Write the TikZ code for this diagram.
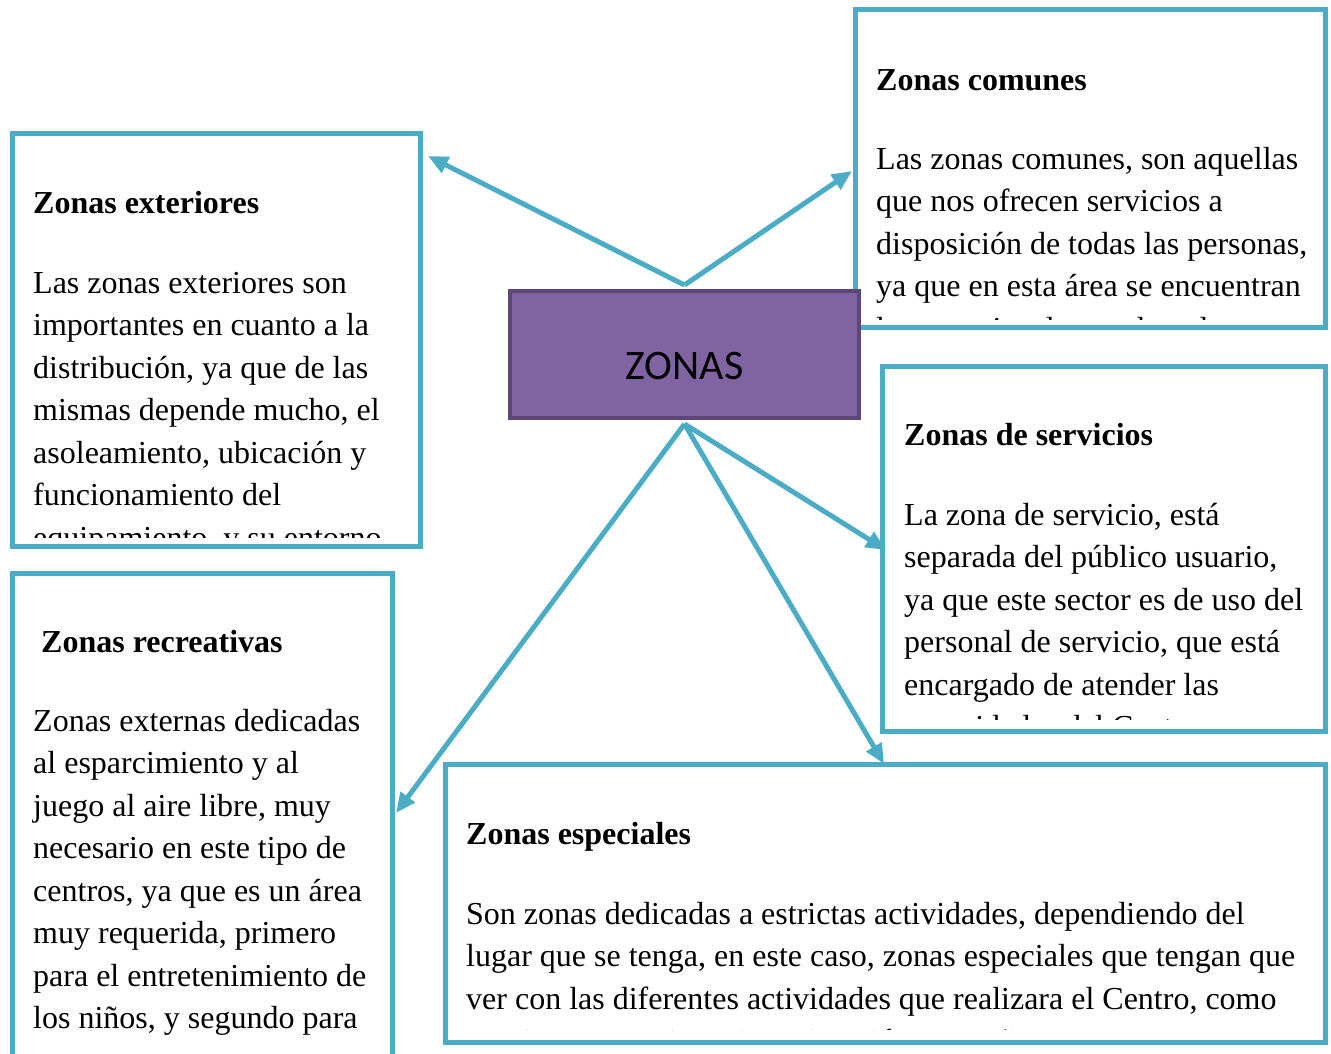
\documentclass[tikz,border=0pt]{standalone}
\usepackage{fontspec}
\setmainfont{Liberation Serif}
\newfontfamily\zonasfont{Carlito}
\usetikzlibrary{arrows.meta}
\definecolor{zteal}{HTML}{4BACC6}
\definecolor{zpurple}{HTML}{8064A2}
\definecolor{zpurpledark}{HTML}{5C4776}
% lines hang from the baseline of the first one
\newcommand\zlines[1]{\parbox[t]{900pt}{\raggedright #1}}
\begin{document}
\begin{tikzpicture}[x = 1pt, y = -1pt,
  zbox/.style = {draw = zteal, line width = 5.5pt, fill = white, inner sep = 0pt},
  ztitle/.style = {anchor = base west, inner sep = 0pt, font = \fontsize{32}{42.5}\selectfont\bfseries},
  ztext/.style = {anchor = base west, inner sep = 0pt, font = \fontsize{32}{42.5}\selectfont},
  zlink/.style = {zteal, line width = 5pt, -{Triangle[length = 20pt, width = 17pt]}}]
\useasboundingbox (0,0) rectangle (1331,1053);
% boxes
\node[zbox, minimum width = 408pt, minimum height = 413pt] at (216.5,340) (ext) {};
\node[zbox, minimum width = 470pt, minimum height = 318pt] at (1090.5,168.5) (com) {};
\node[zbox, minimum width = 443pt, minimum height = 365pt] at (1104,549) (ser) {};
\node[zbox, minimum width = 380pt, minimum height = 507pt] at (202.5,827) (rec) {};
\node[zbox, minimum width = 880pt, minimum height = 278pt] at (885.5,903.5) (esp) {};
% texts, cut at the bottom of each box
\begin{scope}
\clip (15,136) rectangle (418,537);
\node[ztitle] at (33,213) (ext-title) {Zonas exteriores};
\node[ztext] at (33,293) (ext-text) {\zlines{Las zonas exteriores son\\importantes en cuanto a la\\distribución, ya que de las\\mismas depende mucho, el\\asoleamiento, ubicación y\\funcionamiento del\\equipamiento, y su entorno.}};
\end{scope}
\begin{scope}
\clip (858,12) rectangle (1323,319);
\node[ztitle] at (876,90) (com-title) {Zonas comunes};
\node[ztext] at (876,169) (com-text) {\zlines{Las zonas comunes, son aquellas\\que nos ofrecen servicios a\\disposición de todas las personas,\\ya que en esta área se encuentran\\los espacios de uso de todos.}};
\end{scope}
\begin{scope}
\clip (885,369) rectangle (1323,719);
\node[ztitle] at (904,445) (ser-title) {Zonas de servicios};
\node[ztext] at (904,525) (ser-text) {\zlines{La zona de servicio, está\\separada del público usuario,\\ya que este sector es de uso del\\personal de servicio, que está\\encargado de atender las\\necesidades del Centro.}};
\end{scope}
\begin{scope}
\clip (15,576) rectangle (390,1053);
\node[ztitle] at (41,652) (rec-title) {Zonas recreativas};
\node[ztext] at (33,731) (rec-text) {\zlines{Zonas externas dedicadas\\al esparcimiento y al\\juego al aire libre, muy\\necesario en este tipo de\\centros, ya que es un área\\muy requerida, primero\\para el entretenimiento de\\los niños, y segundo para}};
\end{scope}
\begin{scope}
\clip (448,767) rectangle (1323,1029);
\node[ztitle] at (466,844) (esp-title) {Zonas especiales};
\node[ztext] at (466,924) (esp-text) {\zlines{Son zonas dedicadas a estrictas actividades, dependiendo del\\lugar que se tenga, en este caso, zonas especiales que tengan que\\ver con las diferentes actividades que realizara el Centro, como\\reuniones, convivencia, animación y enseñanza.}};
\end{scope}
% centre
\node[draw = zpurpledark, fill = zpurple, line width = 4pt, minimum width = 349pt, minimum height = 127pt,
  text height = 49pt, text depth = 0pt, font = \zonasfont\fontsize{42}{50}\selectfont] at (684.5,354.5) (zonas) {ZONAS};
\coordinate (ext-tip) at (428,156);
\coordinate (com-tip) at (852,171);
\coordinate (ser-tip) at (886,550);
\coordinate (esp-tip) at (884,764);
\coordinate (rec-tip) at (396,813);
\draw[zlink] ([yshift = 4pt]zonas.north) -- (ext-tip);
\draw[zlink] ([yshift = 4pt]zonas.north) -- (com-tip);
\draw[zlink] ([yshift = -4pt]zonas.south) -- (ser-tip);
\draw[zlink] ([yshift = -4pt]zonas.south) -- (esp-tip);
\draw[zlink] ([yshift = -4pt]zonas.south) -- (rec-tip);
\end{tikzpicture}
\end{document}
